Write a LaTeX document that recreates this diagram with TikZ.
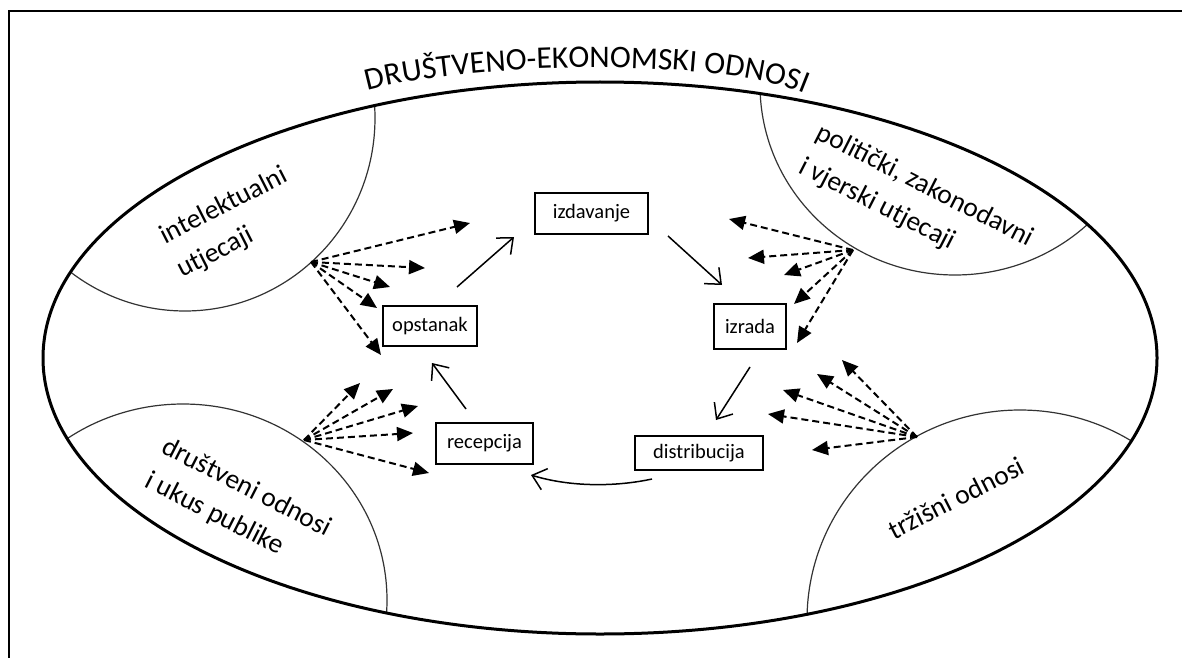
\documentclass[tikz,border=0pt]{standalone}
\usepackage{fontspec}
\setmainfont{Carlito}
\usetikzlibrary{arrows.meta,decorations.text}
\newcommand\titlefont{\fontsize{31.5}{33}\selectfont}
\begin{document}
\begin{tikzpicture}[x=1pt,y=-1pt,
  box/.style={draw, line width=2.4pt, inner sep=0pt, font=\fontsize{20.5}{24}\selectfont},
  cyc/.style={line width=1.5pt, -{Straight Barb[length=13pt,width=22pt,line width=1.5pt]}},
  fan/.style={line width=2pt, dash pattern=on 7pt off 4pt, -{Triangle[length=16pt,width=14pt]}},
  region/.style={font=\fontsize{27.5}{38}\selectfont, align=left, inner sep=0pt},
  subarc/.style={line width=1.2pt, black!80},
  outer/.style={line width=3pt}]
\useasboundingbox (0,0) rectangle (1182,658);
\fill[white] (0,0) rectangle (1182,658);
% frame
\draw[line width=2.5pt] (1182,11) -- (9,11) -- (9,658);
% title
\path[decorate, decoration={text along path, text={|\titlefont|DRUŠTVENO-EKONOMSKI ODNOSI}, text align=center}]
  (362,92) .. controls (460,62) and (730,56) .. (810,96);
% sub-regions
\begin{scope}
  \clip (600,358) ellipse [x radius=557pt, y radius=276pt];
  \draw[subarc] (185,118) ellipse [x radius=190pt, y radius=193pt];
  \draw[subarc] (955,85) ellipse [x radius=195pt, y radius=190pt];
  \draw[subarc] (183,600) ellipse [x radius=204pt, y radius=196pt];
  \draw[subarc] (1020,620) ellipse [x radius=213pt, y radius=210pt];
\end{scope}
% outer ellipse
\draw[outer] (600,358) ellipse [x radius=557pt, y radius=276pt];
% region labels
\node[region, rotate=27] (intel) at (232.6,223) {intelektualni\\utjecaji};
\node[region, rotate=-27] (polit) at (916,203) {politički, zakonodavni\\i vjerski utjecaji};
\node[region, rotate=-27] (drus) at (238,505) {društveni odnosi\\i ukus publike};
\node[region, rotate=27] (trz) at (956,498) {tržišni odnosi};
% boxes
\node[box, minimum width=113pt, minimum height=41pt] (izd) at (591.5,213.5) {izdavanje};
\node[box, minimum width=94pt, minimum height=40pt] (ops) at (430,326) {opstanak};
\node[box, minimum width=72pt, minimum height=45pt] (izr) at (750,326.5) {izrada};
\node[box, minimum width=97pt, minimum height=41pt] (rec) at (484.5,443.5) {recepcija};
\node[box, minimum width=128pt, minimum height=34pt] (dis) at (699,453) {distribucija};
% cycle arrows
\coordinate (a1s) at (457,287); \coordinate (a1e) at (514,237);
\coordinate (a2s) at (668,236); \coordinate (a2e) at (722,285);
\coordinate (a3s) at (750,367); \coordinate (a3e) at (716,420);
\coordinate (a4s) at (652,479); \coordinate (a4e) at (531,475);
\coordinate (a5s) at (466,409); \coordinate (a5e) at (432,363);
\draw[cyc] (a1s) -- (a1e);
\draw[cyc] (a2s) -- (a2e);
\draw[cyc] (a3s) -- (a3e);
\draw[cyc] (a4s) .. controls (615,487) and (570,487) .. (a4e);
\draw[cyc] (a5s) -- (a5e);
% influence fans
\coordinate (fanTL) at (311,262);
\coordinate (fanTR) at (853,250);
\coordinate (fanBL) at (304,440);
\coordinate (fanBR) at (917,437);
\foreach \x/\y [count=\i] in {470/223, 425/268, 390/287, 377/308, 381/355}
  {\coordinate (tl\i) at (\x,\y); \draw[fan] (fanTL) -- (tl\i);}
\foreach \x/\y [count=\i] in {729/219, 748/258, 784/275, 794/304, 797/343}
  {\coordinate (tr\i) at (\x,\y); \draw[fan] (fanTR) -- (tr\i);}
\foreach \x/\y [count=\i] in {360/383, 393/389, 418/406, 413/433, 429/473}
  {\coordinate (bl\i) at (\x,\y); \draw[fan] (fanBL) -- (bl\i);}
\foreach \x/\y [count=\i] in {842/360, 817/374, 783/390, 768/414, 812/450}
  {\coordinate (br\i) at (\x,\y); \draw[fan] (fanBR) -- (br\i);}
\end{tikzpicture}
\end{document}
